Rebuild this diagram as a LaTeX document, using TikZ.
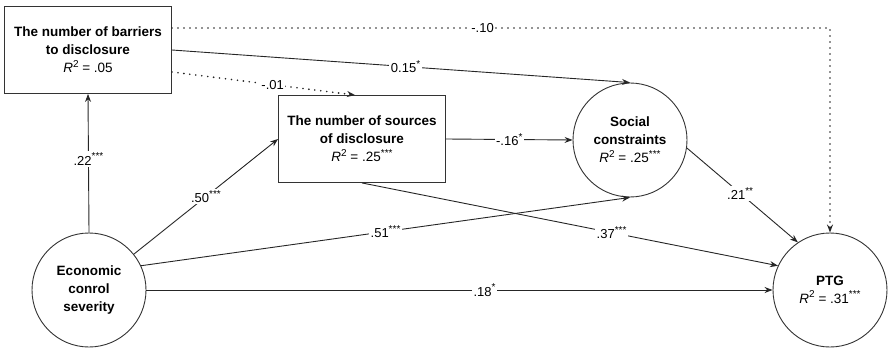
\documentclass[tikz,border=0pt]{standalone}
\usepackage{fontspec}
\setmainfont{Liberation Sans}
\usetikzlibrary{arrows.meta}

\begin{document}
\begin{tikzpicture}[>={Stealth[length=8pt,width=6pt]}, x=1pt, y=-1pt,
    % Define the style for each variable
    var box/.style={draw=black!80, line width=0.9pt, align=center, inner sep=0pt,
        font=\bfseries\fontsize{13.5}{18}\selectfont},
    observed/.style={var box, rectangle, minimum width=167pt, minimum height=87pt},
    latent/.style={var box, circle, minimum size=114pt},
    % Define the style for the connecting lines
    effect/.style={->, line width=0.9pt, draw=black!85},
    weak effect/.style={effect, line width=1.8pt, dash pattern=on 0pt off 6pt, line cap=round},
    coef/.style={fill=white, inner sep=1.5pt, font=\fontsize{13}{15}\selectfont}
]
\useasboundingbox (0,0) rectangle (894,350);

% R squared with italic R, and significance stars
\def\sig#1{\raisebox{0.42em}{\fontsize{10}{10}\selectfont #1}}
\def\rsq#1{{\mdseries\textit{R}\sig{2} = #1}}

% Variables
\node[observed] (barriers) at (88,50) {The number of barriers\\to disclosure\\\rsq{.05}};
\node[observed] (sources) at (362,139) {The number of sources\\of disclosure\\\rsq{.25\sig{***}}};
\node[latent] (social) at (630,140) {Social\\constraints\\\rsq{.25\sig{***}}};
\node[latent] (econ) at (89,290) {Economic\\conrol\\severity};
\node[latent] (ptg) at (830,290) {PTG\\\rsq{.31\sig{***}}};

% Paths from economic control severity
\draw[effect] (econ.north) -- (barriers.south) node[coef, pos=0.53] {.22\sig{***}};
\draw[effect] (econ) -- (sources.west) node[coef, pos=0.5] {.50\sig{***}};
\draw[effect] (econ.25) -- (social.south) node[coef, pos=0.5] {.51\sig{***}};
\draw[effect] (econ.east) -- (ptg.west) node[coef, pos=0.54] {.18\sig{*}};

% Paths from the mediators
\draw[effect] (sources.east) -- (social.west) node[coef, pos=0.5] {-.16\sig{*}};
\draw[effect] (sources.south) -- (ptg.155) node[coef, pos=0.6] {.37\sig{***}};
\draw[effect] (social.-8) -- (ptg.124) node[coef, pos=0.48] {.21\sig{**}};
\draw[effect] (barriers.east) -- (social.north) node[coef, pos=0.51] {0.15\sig{*}};

% Non-significant paths
\draw[weak effect] ([yshift=-22pt]barriers.east) -- ([xshift=-7pt]sources.north) node[coef, pos=0.55] {-.01};
\draw[weak effect] ([yshift=22pt]barriers.east) -| (ptg.north) node[coef, pos=0.236] {-.10};

\end{tikzpicture}
\end{document}
